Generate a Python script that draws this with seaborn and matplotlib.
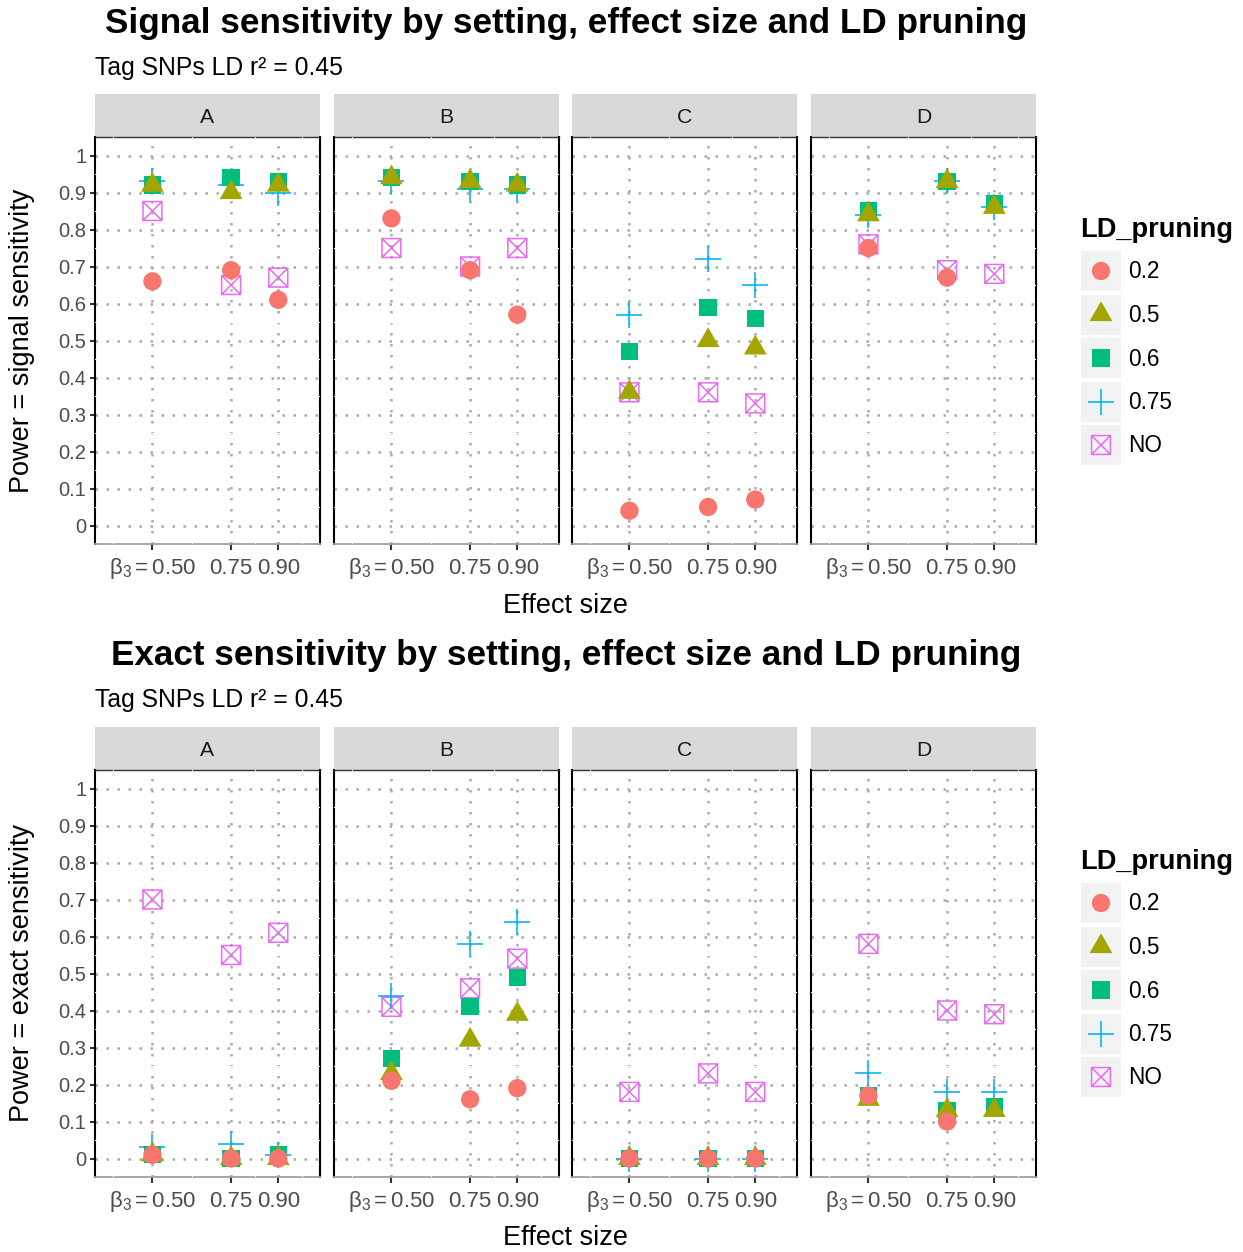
import numpy as np
import pandas as pd
import matplotlib
matplotlib.use('Agg')
import matplotlib.pyplot as plt
from matplotlib.path import Path
from matplotlib.patches import Rectangle
import seaborn as sns

sns.set_theme(style='white')
plt.rcParams['font.family'] = ['Liberation Sans', 'DejaVu Sans']
plt.rcParams['mathtext.fontset'] = 'custom'
plt.rcParams['mathtext.rm'] = 'Liberation Sans'
plt.rcParams['mathtext.it'] = 'Liberation Sans:italic'
plt.rcParams['mathtext.default'] = 'regular'

# ── data ──────────────────────────────────────────────────────────────────────
SETTINGS = ['A', 'B', 'C', 'D']
EFFECTS = [0.50, 0.75, 0.90]
LD_LEVELS = ['0.2', '0.5', '0.6', '0.75', 'NO']
EFFECT_LABELS = [r'$\beta_3 = 0.50$', '0.75', '0.90']

# order: A(0.50, 0.75, 0.90), B(...), C(...), D(...); nan = not shown
signal_02 = [0.66, 0.69, 0.61, 0.83, 0.69, 0.57, 0.04, 0.05, 0.07, 0.75, 0.67, np.nan]
signal_05 = [0.92, 0.90, 0.92, 0.94, 0.93, 0.92, 0.36, 0.50, 0.48, 0.84, 0.93, 0.86]
signal_06 = [0.92, 0.94, 0.93, 0.94, 0.93, 0.92, 0.47, 0.59, 0.56, 0.85, 0.93, 0.87]
signal_075 = [0.93, 0.92, 0.90, 0.93, 0.91, 0.91, 0.57, 0.72, 0.65, 0.84, 0.93, 0.86]
signal_no = [0.85, 0.65, 0.67, 0.75, 0.70, 0.75, 0.36, 0.36, 0.33, 0.76, 0.69, 0.68]

exact_02 = [0.01, 0.00, 0.00, 0.21, 0.16, 0.19, 0.00, 0.00, 0.00, 0.17, 0.10, np.nan]
exact_05 = [0.01, 0.00, 0.00, 0.23, 0.32, 0.39, 0.00, 0.00, 0.00, 0.16, 0.13, 0.13]
exact_06 = [0.01, 0.00, 0.01, 0.27, 0.41, 0.49, 0.00, 0.00, 0.00, 0.17, 0.13, 0.14]
exact_075 = [0.03, 0.04, 0.01, 0.44, 0.58, 0.64, 0.00, 0.00, 0.00, 0.23, 0.18, 0.18]
exact_no = [0.70, 0.55, 0.61, 0.41, 0.46, 0.54, 0.18, 0.23, 0.18, 0.58, 0.40, 0.39]


def long_frame(series):
    rows = []
    for lev, vals in zip(LD_LEVELS, series):
        i = 0
        for s in SETTINGS:
            for e in EFFECTS:
                rows.append({'setting': s, 'effect': e, 'LD_pruning': lev, 'power': vals[i]})
                i += 1
    return pd.DataFrame(rows).dropna()


signal_df = long_frame([signal_02, signal_05, signal_06, signal_075, signal_no])
exact_df = long_frame([exact_02, exact_05, exact_06, exact_075, exact_no])

# ── marker styles (ggplot shapes 19, 17, 15, 3, 7) ────────────────────────────
TRI = Path([(0, 1.5551), (1.3468, -0.7776), (-1.3468, -0.7776), (0, 1.5551)],
           [Path.MOVETO, Path.LINETO, Path.LINETO, Path.CLOSEPOLY])
BOXX = Path([(-1, -1), (1, -1), (1, 1), (-1, 1), (-1, -1),
             (-1, -1), (1, 1), (-1, 1), (1, -1)],
            [Path.MOVETO, Path.LINETO, Path.LINETO, Path.LINETO, Path.CLOSEPOLY,
             Path.MOVETO, Path.LINETO, Path.MOVETO, Path.LINETO])
COLORS = ['#F8766D', '#A3A500', '#00BF7D', '#00B0F6', '#E76BF3']
STYLE = {
    '0.2':  dict(marker='o', s=174, edgecolor='none', linewidth=0),
    '0.5':  dict(marker=TRI, s=360, edgecolor='none', linewidth=0),
    '0.6':  dict(marker='s', s=156, edgecolor='none', linewidth=0),
    '0.75': dict(marker='+', s=370, linewidth=1.15),
    'NO':   dict(marker=BOXX, s=185, facecolor='none', linewidth=1.1),
}
DRAW_ORDER = ['NO', '0.75', '0.6', '0.5', '0.2']

W, H = 1243, 1252
fig = plt.figure(figsize=(W / 100, H / 100), dpi=100)


def px_axes(x0, y0, x1, y1):
    return fig.add_axes([x0 / W, 1 - y1 / H, (x1 - x0) / W, (y1 - y0) / H])


PANEL_X = [95, 334, 572, 811]
PANEL_W = 225
GRID = dict(color='#ABABAB', lw=1.8, ls=(0, (1, 3.4)), zorder=1)


def draw_block(df, top):
    strip_top, panel_top, panel_bot = top, top + 43, top + 450
    for k, s in enumerate(SETTINGS):
        x0 = PANEL_X[k]
        st = px_axes(x0, strip_top, x0 + PANEL_W, panel_top)
        st.set_facecolor('#D9D9D9')
        for sp in st.spines.values():
            sp.set_visible(False)
        st.set_xticks([]); st.set_yticks([])
        st.text(0.5, 0.45, s, ha='center', va='center', fontsize=15.2, color='#1A1A1A',
                transform=st.transAxes)

        ax = px_axes(x0, panel_top, x0 + PANEL_W, panel_bot)
        ax.set_facecolor('white')
        sub = df[df['setting'] == s]
        for lev in DRAW_ORDER:
            col = COLORS[LD_LEVELS.index(lev)]
            kw = dict(STYLE[lev])
            if lev in ('0.75', 'NO'):
                kw['edgecolor'] = col
            sns.scatterplot(data=sub[sub['LD_pruning'] == lev], x='effect', y='power',
                            color=col, ax=ax, legend=False, zorder=3, **kw)
        ax.set_xlim(0.3175, 1.0325)
        ax.set_ylim(-0.05, 1.05)
        ax.set_xlabel(''); ax.set_ylabel('')
        yt = np.round(np.arange(0, 1.01, 0.1), 1)
        ax.set_yticks(yt)
        ax.set_xticks(EFFECTS)
        ax.set_xticklabels(EFFECT_LABELS)
        ax.grid(False)
        for v in yt:
            ax.axhline(v, **GRID)
        for v in EFFECTS:
            ax.axvline(v, **GRID)
        # minor grid in white (visible only where it crosses the border)
        for v in np.arange(0.05, 1.0, 0.1):
            ax.axhline(v, color='white', lw=0.8, zorder=2.6)
        for v in [0.375, 0.625, 0.825, 0.975]:
            ax.axvline(v, color='white', lw=0.8, zorder=2.6)
        ax.spines['left'].set_color('black'); ax.spines['left'].set_linewidth(1.5)
        ax.spines['right'].set_color('black'); ax.spines['right'].set_linewidth(1.5)
        ax.spines['bottom'].set_color('#A0A0A0'); ax.spines['bottom'].set_linewidth(1.3)
        ax.spines['top'].set_color('#333333'); ax.spines['top'].set_linewidth(1.0)
        ax.tick_params(axis='x', length=4.3, width=1.5, color='#333333', labelcolor='#4D4D4D',
                       labelsize=16, pad=17, bottom=True)
        for lab in ax.get_xticklabels():
            lab.set_verticalalignment('baseline')
        if k == 0:
            ax.set_yticklabels(['0' if v == 0 else ('1' if v == 1 else f'{v:g}') for v in yt])
            ax.tick_params(axis='y', length=3.8, width=1.5, color='#333333', labelcolor='#4D4D4D',
                           labelsize=14.5, pad=2.5, left=True)
        else:
            ax.set_yticklabels([])
            ax.tick_params(axis='y', left=False)


draw_block(signal_df, 94)
draw_block(exact_df, 727)

# ── figure-level text and legends ─────────────────────────────────────────────
ov = fig.add_axes([0, 0, 1, 1])
ov.set_xlim(0, W); ov.set_ylim(H, 0)
ov.axis('off')
ov.patch.set_alpha(0)

ov.text(566, 23, 'Signal sensitivity by setting, effect size and LD pruning',
        ha='center', va='center', fontsize=25.3, fontweight='bold', color='black')
ov.text(95, 68, 'Tag SNPs LD r\u00b2 = 0.45', ha='left', va='center', fontsize=17.8, color='black')
ov.text(566, 606, 'Effect size', ha='center', va='center', fontsize=19.5, color='black')
ov.text(22, 341, 'Power = signal sensitivity', rotation=90, ha='center', va='center',
        fontsize=19.5, color='black')

ov.text(566, 656, 'Exact sensitivity by setting, effect size and LD pruning',
        ha='center', va='center', fontsize=25.3, fontweight='bold', color='black')
ov.text(95, 700, 'Tag SNPs LD r\u00b2 = 0.45', ha='left', va='center', fontsize=17.8, color='black')
ov.text(566, 1238, 'Effect size', ha='center', va='center', fontsize=19.5, color='black')
ov.text(22, 973, 'Power = exact sensitivity', rotation=90, ha='center', va='center',
        fontsize=19.5, color='black')


def draw_legend(title_y):
    ov.text(1080, title_y, 'LD_pruning', ha='left', va='center', fontsize=19.6,
            fontweight='bold', color='black')
    for i, (lev, col) in enumerate(zip(LD_LEVELS, COLORS)):
        cy = title_y + 41 + i * 43.5
        ov.add_patch(Rectangle((1081, cy - 20), 40, 40, facecolor='#F2F2F2', edgecolor='none'))
        kw = dict(STYLE[lev])
        if lev in ('0.75', 'NO'):
            kw['edgecolor'] = col
        ov.scatter([1101], [cy], color=col, zorder=3, **kw)
        ov.text(1128, cy + 1, lev, ha='left', va='center', fontsize=16.3, color='black')


draw_legend(230)
draw_legend(862)

fig.savefig('out.png', dpi=100)
